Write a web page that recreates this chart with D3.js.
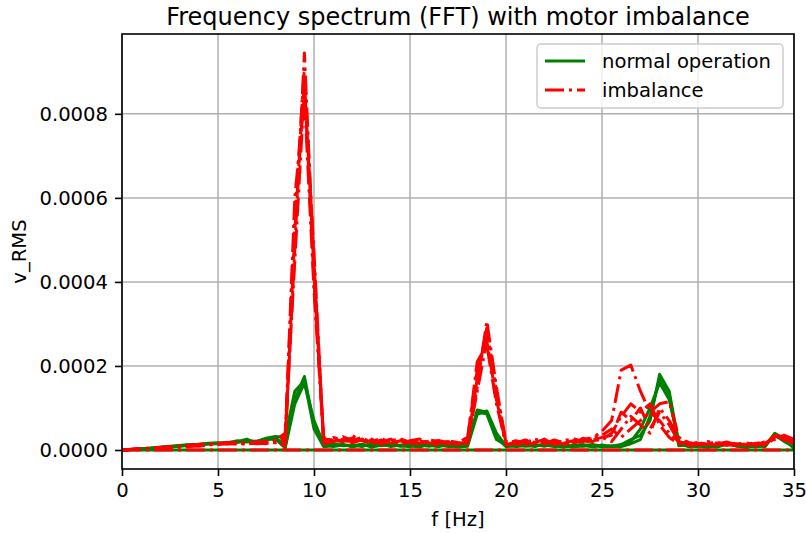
<!DOCTYPE html>
<html>
<head>
<meta charset="utf-8">
<script src="https://cdn.jsdelivr.net/npm/d3@7"></script>
<style>
  body { margin: 0; background: #fff; }
  svg { font-family: "DejaVu Sans", sans-serif; }
  .tick text { font-size: 19.6px; fill: #000; }
</style>
</head>
<body>
<div id="chart"></div>
<script>
// frequency bins [Hz]
const freqs = [0, 0.5, 1, 1.5, 2, 2.5, 3, 3.5, 4, 4.5, 5, 5.5, 6, 6.5, 7, 7.5, 8, 8.5, 9, 9.5,
  10, 10.5, 11, 11.5, 12, 12.5, 13, 13.5, 14, 14.5, 15, 15.5, 16, 16.5, 17, 17.5, 18, 18.5, 19, 19.5,
  20, 20.5, 21, 21.5, 22, 22.5, 23, 23.5, 24, 24.5, 25, 25.5, 26, 26.5, 27, 27.5, 28, 28.5, 29, 29.5,
  30, 30.5, 31, 31.5, 32, 32.5, 33, 33.5, 34, 34.5, 35];

// amplitudes are in units of 1e-5 v_RMS
const UNIT = 1e-5;

const normal0 = new Array(71).fill(0);
const normal1 = [0, 0.1, 0.2, 0.5, 0.6, 0.8, 1.0, 1.2, 1.4, 1.5, 1.6, 1.8, 2.0, 2.6, 1.6, 2.4, 3.0,
  0.8, 12, 17.5, 6, 1.2,
  1.5, 1.0, 1.2, 0.8, 1.6, 1.0, 1.4, 0.9, 1.2, 1.5, 1.1, 0.8, 1.3, 0.9,
  1.2, 9.5, 9.0, 3.0, 0.8,
  1.0, 1.4, 0.8, 1.5, 1.0, 0.7, 1.2, 0.9, 1.1, 0.8, 0.9,
  1.3, 2.5, 3.5, 7, 18, 14, 1.5, 0.8,
  1.0, 0.6, 1.2, 1.8, 0.9, 0.7, 1.1, 0.8,
  4.0, 2.5, 0.5];
const normal2 = [0, 0.2, 0.3, 0.4, 0.7, 0.9, 1.1, 1.3, 1.3, 1.6, 1.7, 1.6, 2.2, 1.9, 2.0, 2.8, 3.2,
  3.0, 14, 16.5, 5, 0.8,
  1.0, 1.4, 0.7, 1.3, 0.9, 1.5, 0.8, 1.2, 1.0, 0.7, 1.4, 1.2, 0.8, 1.1,
  1.5, 9.0, 8.6, 2.5, 1.2,
  0.8, 1.1, 1.3, 0.9, 1.4, 0.8, 1.0, 1.3, 0.7, 1.2, 0.8,
  1.0, 2.0, 5.0, 10, 16, 12, 2.0, 1.0,
  0.8, 1.3, 0.9, 1.5, 1.2, 0.6, 1.0, 1.3,
  3.5, 2.0, 0.8];
const normal3 = [0, 0.1, 0.3, 0.3, 0.5, 0.7, 0.9, 1.1, 1.2, 1.4, 1.5, 1.7, 1.8, 2.2, 2.1, 2.5, 2.6,
  0.5, 11, 16, 7, 1.5,
  0.8, 1.2, 1.0, 1.4, 0.7, 1.1, 1.3, 1.0, 0.8, 1.2, 0.9, 1.4, 1.0, 0.7,
  0.9, 8.5, 9.3, 4.0, 1.0,
  1.2, 0.9, 1.0, 1.2, 0.8, 1.1, 0.7, 1.0, 1.3, 0.9, 1.0,
  0.8, 1.5, 2.5, 8, 17, 13, 1.0, 1.2,
  1.1, 0.9, 0.7, 1.4, 1.0, 0.9, 0.8, 1.0,
  3.8, 2.8, 0.3];

const imbal0 = new Array(71).fill(0);
const imbal1 = [0, 0.1, 0.3, 0.4, 0.6, 0.7, 0.9, 1.1, 1.2, 1.3, 1.5, 1.8, 1.6, 1.4, 2.0, 1.7, 2.2,
  2.0, 48, 94.5, 42, 2.5,
  2.5, 3.2, 2.2, 3.0, 1.7, 2.4, 2.0, 1.5, 2.2, 2.6, 1.8, 2.3, 1.6, 1.2,
  2.0, 15, 30.7, 15, 1.5,
  2.2, 1.7, 2.6, 2.0, 1.4, 2.2, 2.7, 2.0, 2.8, 4.5, 7.0,
  19, 20.2, 14, 9, 7, 4, 2, 1.5,
  1.8, 1.4, 1.2, 1.7, 1.5, 1.2, 1.8, 1.4,
  3.5, 3.0, 2.0];
const imbal2 = [0, 0.2, 0.2, 0.4, 0.5, 0.6, 0.8, 0.9, 1.1, 1.3, 1.6, 1.5, 1.9, 1.5, 1.8, 2.0, 1.8,
  3.0, 55, 91, 45, 2.0,
  3.0, 2.4, 2.8, 1.8, 2.6, 1.4, 2.2, 2.7, 1.8, 1.4, 2.4, 2.0, 1.4, 1.7,
  3.0, 19, 27, 13, 1.0,
  1.7, 2.4, 1.8, 2.2, 1.7, 1.2, 2.0, 2.4, 3.0, 3.5, 5.0,
  3.0, 5.0, 7.0, 9.0, 11, 11.5, 3.0, 1.5,
  1.4, 2.0, 1.6, 1.1, 1.4, 1.7, 1.2, 2.0,
  3.0, 3.2, 2.2];
const imbal3 = [0, 0.1, 0.3, 0.3, 0.6, 0.8, 0.7, 1.1, 1.3, 1.2, 1.4, 1.7, 1.4, 1.8, 1.5, 1.6, 1.9,
  1.0, 52, 88, 40, 3.0,
  2.2, 2.0, 3.4, 2.2, 2.0, 2.8, 1.6, 2.2, 1.4, 2.2, 1.7, 1.2, 2.2, 1.8,
  1.5, 17, 29, 14, 2.0,
  1.4, 2.0, 2.2, 1.4, 2.4, 1.8, 1.4, 2.8, 2.2, 2.5, 4.0,
  8, 11, 9, 11, 6, 3, 1.5, 1.2,
  1.2, 1.6, 1.8, 1.4, 1.0, 1.5, 1.4, 1.7,
  2.5, 2.8, 1.8];
const imbal4 = [0, 0.1, 0.3, 0.5, 0.5, 0.7, 0.9, 0.8, 1.3, 1.5, 1.3, 1.6, 1.7, 1.4, 1.8, 1.5, 2.4,
  4.0, 45, 86, 47, 1.5,
  2.0, 2.8, 1.7, 2.4, 1.4, 2.0, 2.6, 1.2, 2.0, 1.6, 2.1, 1.4, 1.8, 1.4,
  2.5, 21, 25, 11, 1.2,
  2.0, 1.2, 1.7, 2.6, 1.2, 1.6, 2.2, 1.7, 2.4, 3.0, 3.5,
  9, 7, 10, 5, 9, 6, 2, 1.0,
  1.6, 1.2, 1.4, 1.9, 1.2, 1.4, 1.1, 1.5,
  3.2, 2.5, 1.5];
const imbal5 = [0, 0.1, 0.2, 0.4, 0.6, 0.5, 0.9, 1.0, 0.9, 1.2, 1.5, 1.4, 1.5, 1.7, 1.6, 1.9, 1.7,
  2.5, 60, 84, 38, 2.5,
  2.4, 2.2, 2.0, 2.6, 2.2, 1.7, 1.8, 2.4, 1.6, 2.0, 1.4, 1.8, 2.0, 1.5,
  1.8, 14, 26, 12, 1.8,
  1.2, 1.8, 1.4, 1.7, 2.0, 1.4, 1.7, 2.2, 2.0, 3.0, 2.0,
  5, 8, 6, 4, 10, 7, 3, 1.8,
  1.4, 1.2, 1.6, 1.2, 1.7, 1.0, 1.6, 1.2,
  2.8, 3.5, 2.5];

const normalRuns = [normal0, normal1, normal2, normal3];
const imbalRuns = [imbal0, imbal1, imbal2, imbal3, imbal4, imbal5];

const xTicks = [0, 5, 10, 15, 20, 25, 30, 35];
const yTicks = [0, 0.0002, 0.0004, 0.0006, 0.0008];

const width = 806, height = 533;
const plot = { left: 122, right: 794, top: 34, bottom: 469 };

const svg = d3.select("#chart").append("svg")
  .attr("width", width)
  .attr("height", height);

const x = d3.scaleLinear().domain([0, 35]).range([plot.left, plot.right]);
const y = d3.scaleLinear().domain([-0.0000452, 0.00099]).range([plot.bottom, plot.top]);

svg.append("defs").append("clipPath").attr("id", "clip")
  .append("rect")
  .attr("x", plot.left).attr("y", plot.top)
  .attr("width", plot.right - plot.left).attr("height", plot.bottom - plot.top);

// grid
const grid = svg.append("g");
grid.selectAll(".gx").data(xTicks).join("line")
  .attr("x1", d => x(d)).attr("x2", d => x(d))
  .attr("y1", plot.top).attr("y2", plot.bottom)
  .attr("stroke", "#b0b0b0").attr("stroke-width", 1.5);
grid.selectAll(".gy").data(yTicks).join("line")
  .attr("x1", plot.left).attr("x2", plot.right)
  .attr("y1", d => y(d)).attr("y2", d => y(d))
  .attr("stroke", "#b0b0b0").attr("stroke-width", 1.5);

const line = d3.line()
  .x((d, i) => x(freqs[i]))
  .y(d => y(d * UNIT));

const lines = svg.append("g").attr("clip-path", "url(#clip)");
lines.selectAll(".normal").data(normalRuns).join("path")
  .attr("fill", "none")
  .attr("stroke", "green")
  .attr("stroke-width", 3)
  .attr("stroke-linejoin", "round")
  .attr("d", line);
lines.selectAll(".imbal").data(imbalRuns).join("path")
  .attr("fill", "none")
  .attr("stroke", "red")
  .attr("stroke-width", 3)
  .attr("stroke-dasharray", "19,5,3,5")
  .attr("stroke-linejoin", "round")
  .attr("d", line);

// axes
const xAxis = svg.append("g")
  .attr("transform", `translate(0,${plot.bottom})`)
  .call(d3.axisBottom(x).tickValues(xTicks).tickFormat(d3.format("d")).tickSize(7).tickPadding(7));
const yAxis = svg.append("g")
  .attr("transform", `translate(${plot.left},0)`)
  .call(d3.axisLeft(y).tickValues(yTicks).tickFormat(d3.format(".4f")).tickSize(7).tickPadding(7));
[xAxis, yAxis].forEach(a => {
  a.select(".domain").remove();
  a.selectAll(".tick line").attr("stroke", "#000").attr("stroke-width", 1.6);
  a.selectAll(".tick text").attr("font-family", "DejaVu Sans");
});

svg.append("rect")
  .attr("x", plot.left).attr("y", plot.top)
  .attr("width", plot.right - plot.left).attr("height", plot.bottom - plot.top)
  .attr("fill", "none").attr("stroke", "#000").attr("stroke-width", 1.6);

// labels
svg.append("text")
  .attr("x", (plot.left + plot.right) / 2).attr("y", 25)
  .attr("text-anchor", "middle")
  .attr("font-size", 24)
  .text("Frequency spectrum (FFT) with motor imbalance");
svg.append("text")
  .attr("x", (plot.left + plot.right) / 2).attr("y", 526)
  .attr("text-anchor", "middle")
  .attr("font-size", 19.6)
  .text("f [Hz]");
svg.append("text")
  .attr("transform", `translate(26,${(plot.top + plot.bottom) / 2}) rotate(-90)`)
  .attr("text-anchor", "middle")
  .attr("font-size", 19.6)
  .text("v_RMS");

// legend
const legend = svg.append("g").attr("transform", "translate(537,44)");
legend.append("rect")
  .attr("width", 246).attr("height", 64).attr("rx", 4)
  .attr("fill", "#fff").attr("fill-opacity", 0.8)
  .attr("stroke", "#cccccc").attr("stroke-width", 1.5);
const entries = [
  { label: "normal operation", color: "green", dash: null },
  { label: "imbalance", color: "red", dash: "19,5,3,5" }
];
entries.forEach((e, i) => {
  const cy = 17 + i * 29;
  legend.append("line")
    .attr("x1", 8).attr("x2", 48).attr("y1", cy).attr("y2", cy)
    .attr("stroke", e.color).attr("stroke-width", 3)
    .attr("stroke-dasharray", e.dash);
  legend.append("text")
    .attr("x", 65).attr("y", cy + 7)
    .attr("font-size", 19.6)
    .text(e.label);
});
</script>
</body>
</html>
